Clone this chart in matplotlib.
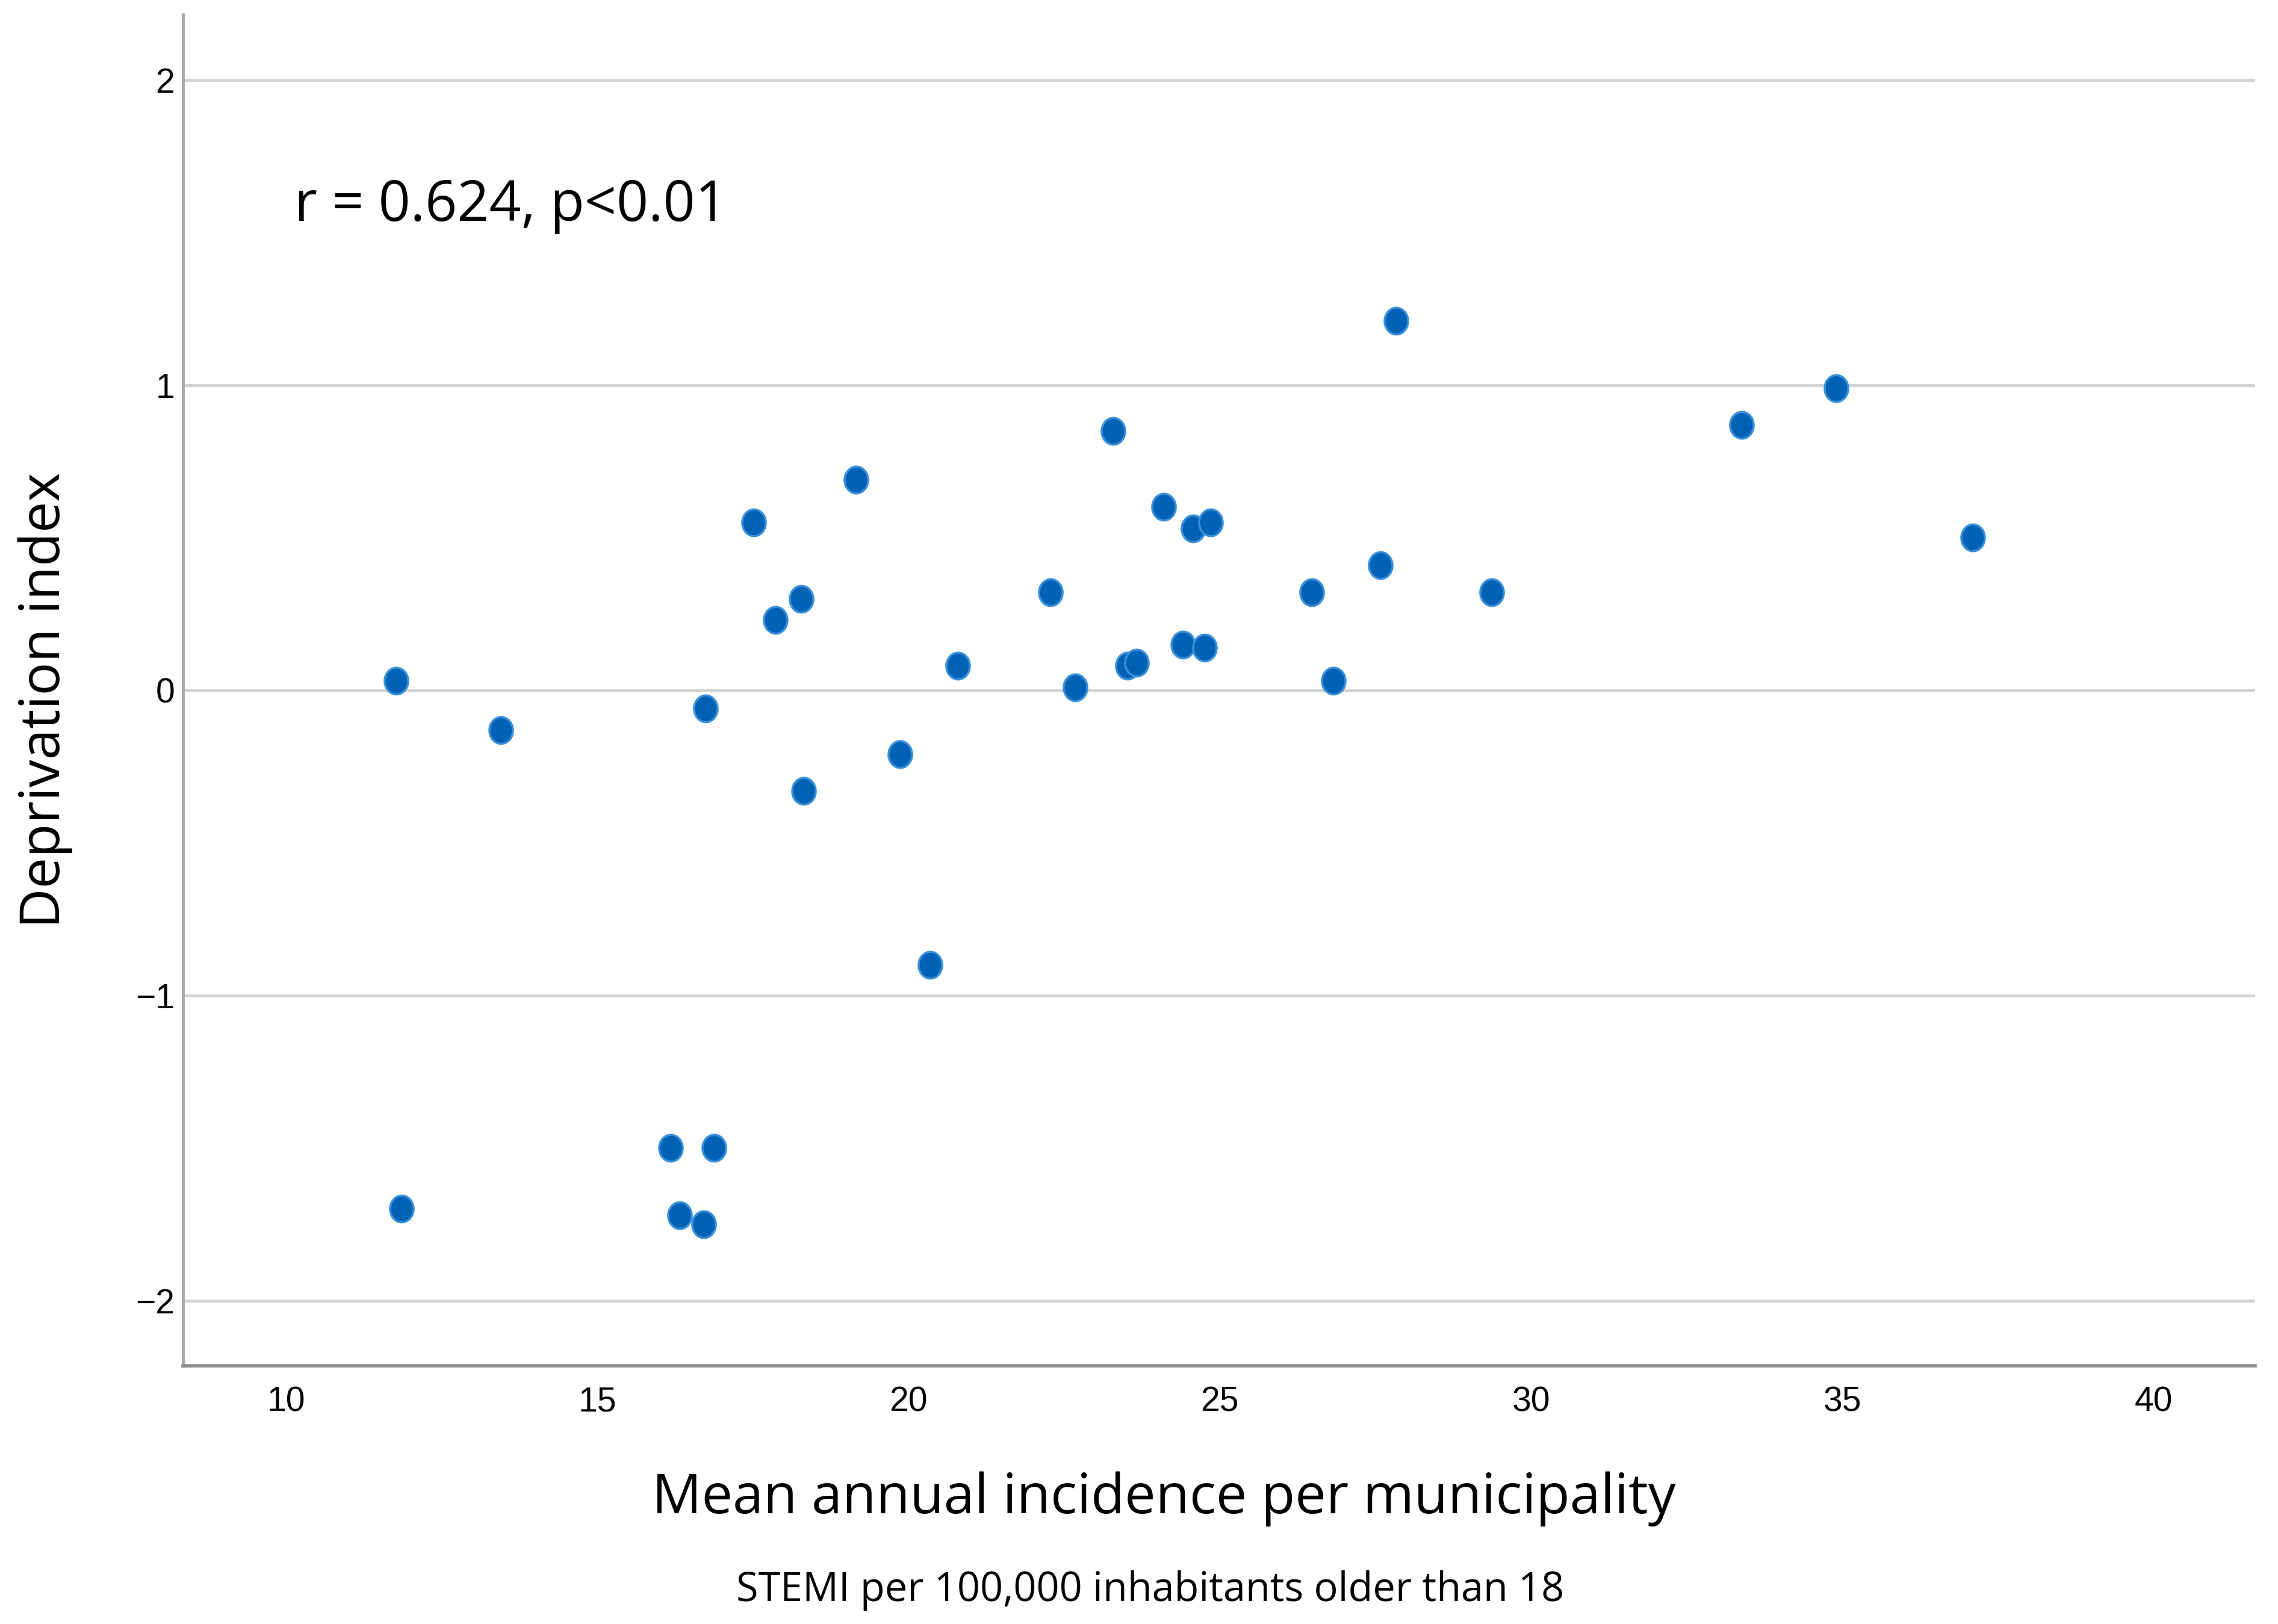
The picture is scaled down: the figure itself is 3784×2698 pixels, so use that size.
import matplotlib
matplotlib.use('Agg')
import matplotlib.pyplot as plt
import numpy as np
from matplotlib.path import Path

# Mean annual STEMI incidence per municipality vs deprivation index
incidence = [11.77, 11.86, 13.45, 16.18, 16.32, 16.71, 16.88, 16.74, 17.51, 17.86,
             18.28, 18.32, 19.16, 19.86, 20.35, 20.79, 22.28, 22.68, 23.29, 23.52,
             23.66, 24.10, 24.41, 24.57, 24.76, 24.85, 26.48, 26.83, 27.58, 27.83,
             29.37, 33.38, 34.90, 37.09]
deprivation = [0.03, -1.70, -0.13, -1.50, -1.72, -1.75, -1.50, -0.06, 0.55, 0.23,
               0.30, -0.33, 0.69, -0.21, -0.90, 0.08, 0.32, 0.01, 0.85, 0.08,
               0.09, 0.60, 0.15, 0.53, 0.14, 0.55, 0.32, 0.03, 0.41, 1.21,
               0.32, 0.87, 0.99, 0.50]

xticks = [10, 15, 20, 25, 30, 35, 40]
yticks = [-2, -1, 0, 1, 2]

tickfont = ['Liberation Sans Narrow', 'Liberation Sans', 'DejaVu Sans']
labelfont = ['Open Sans', 'DejaVu Sans']

# slightly tall ellipse marker, like the SPSS output
t = np.linspace(0, 2*np.pi, 60)
ell = Path(np.column_stack([np.cos(t)*0.88, np.sin(t)]), closed=True)

FIG = plt.figure(figsize=(37.84, 26.98), dpi=100)
AX = FIG.add_axes([0.0804, 0.159, 0.9096, 0.832])

AX.scatter(incidence, deprivation, marker=ell, s=32**2,
           facecolor='#0061b5', edgecolor='#3a90d8', linewidths=2.5, zorder=3)

AX.set_xlim(8.35, 41.63)
AX.set_ylim(-2.214, 2.214)
AX.set_xticks(xticks)
AX.set_yticks(yticks)
AX.set_yticklabels(['\u22122', '\u22121', '0', '1', '2'])
AX.tick_params(length=0, labelsize=41)
AX.tick_params(axis='x', pad=24)
AX.tick_params(axis='y', pad=10)
for lbl in AX.get_xticklabels() + AX.get_yticklabels():
    lbl.set_family(tickfont)

AX.yaxis.grid(True, color='#d3d3d3', linewidth=3.5)
AX.set_axisbelow(True)
AX.spines['top'].set_visible(False)
AX.spines['right'].set_visible(False)
AX.spines['left'].set_color('#a8a8a8')
AX.spines['left'].set_linewidth(3.5)
AX.spines['bottom'].set_color('#8c8c8c')
AX.spines['bottom'].set_linewidth(4)

AX.text(10.14, 1.586, 'r = 0.624, p<0.01', fontsize=67, family=labelfont,
        va='center', ha='left')

FIG.text(0.0198, 0.569, 'Deprivation index', rotation=90, fontsize=66,
         family=labelfont, va='center', ha='center')
FIG.text(0.511, 0.077, 'Mean annual incidence per municipality', fontsize=66,
         family=labelfont, va='center', ha='center')
FIG.text(0.505, 0.0206, 'STEMI per 100,000 inhabitants older than 18', fontsize=48,
         family=labelfont, va='center', ha='center')

plt.savefig('out.png', dpi=100)
